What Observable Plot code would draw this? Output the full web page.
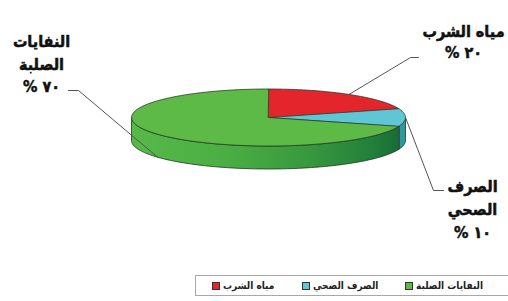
<!DOCTYPE html>
<html><head><meta charset="utf-8">
<script src="https://cdn.jsdelivr.net/npm/d3@7"></script>
<script src="https://cdn.jsdelivr.net/npm/@observablehq/plot@0.6"></script>
<style>
body{margin:0;background:#fff;}
#wrap{position:relative;width:508px;height:301px;overflow:hidden;background:#fff;}
#legend{position:absolute;left:195px;top:275px;width:330px;height:21px;border:1px solid #a8a8a8;box-sizing:border-box;font:bold 10px "DejaVu Sans Condensed","DejaVu Sans",sans-serif;color:#222;}
.item{position:absolute;top:0;height:19px;display:flex;align-items:center;white-space:nowrap;}
.sw{width:6px;height:6px;border:1px solid #333;margin-right:3px;}
</style></head>
<body><div id="wrap"><div id="chart"></div><div id="legend"></div></div>
<script>
// ---- data ----
const categories = ["مياه الشرب", "الصرف الصحي", "النفايات الصلبة"];
const values = [20, 10, 70];
const percentLabels = ["% ٢٠", "% ١٠", "% ٧٠"];
const nameLines = [["مياه الشرب"], ["الصرف", "الصحي"], ["النفايات", "الصلبة"]];
const colors = ["#e4262c", "#5fc6d5", "#5dba47"];

// ---- layout (pixels / styles) ----
const W = 508, H = 272;
const CX = 268, CY = 117, RX = 137, RY = 28.5, DEPTH = 23;
const dv = DEPTH / RY;
const labelLayout = [
  {x: 463, y: 40.5, lh: 1.3},
  {x: 472, y: 207, lh: 1.45},
  {x: 41, y: 62, lh: 1.4}
];
const leaderLayout = [ // label end, elbow (pixels); slice end computed from data
  {end: [418, 57], elbow: [410, 57], side: false},
  {end: [443, 190], elbow: [433, 190], side: false},
  {end: [68, 90], elbow: [78, 90], side: true}
];
const sideColors = ["#b01a1e", "#2e97a4", "url(#sideGreen)"];
const legendLeft = [16, 106, 209];

const toU = px => (px - CX) / RX;
const toV = py => (py - CY) / RY;

// ---- geometry from data ----
const arcs = d3.pie().sort(null).value(d => d).startAngle(0).endAngle(2 * Math.PI)(values);
function arcPoints(a0, a1, off) {
  const n = Math.max(2, Math.ceil((a1 - a0) / 0.02));
  return d3.range(n + 1).map(k => {
    const a = a0 + (a1 - a0) * k / n;
    return {x: Math.sin(a), y: -Math.cos(a) + off};
  });
}
const marks = [];
// side walls (front half only)
arcs.forEach((s, i) => {
  const lo = Math.max(s.startAngle, Math.PI / 2), hi = Math.min(s.endAngle, 3 * Math.PI / 2);
  if (lo < hi) {
    const pts = [...arcPoints(lo, hi, 0), ...arcPoints(lo, hi, dv).reverse()];
    marks.push(Plot.line(pts, {x: "x", y: "y", curve: "linear-closed", fill: sideColors[i], stroke: "#1f3320", strokeWidth: 0.8, strokeLinejoin: "round"}));
  }
});
// top faces
arcs.forEach((s, i) => {
  const pts = [{x: 0, y: 0}, ...arcPoints(s.startAngle, s.endAngle, 0)];
  marks.push(Plot.line(pts, {x: "x", y: "y", curve: "linear-closed", fill: colors[i], stroke: "#2a3a2a", strokeWidth: 0.8, strokeLinejoin: "round"}));
});
// leader lines
arcs.forEach((s, i) => {
  const m = (s.startAngle + s.endAngle) / 2;
  const L = leaderLayout[i];
  const pts = [
    {x: toU(L.end[0]), y: toV(L.end[1])},
    {x: toU(L.elbow[0]), y: toV(L.elbow[1])},
    {x: Math.sin(m), y: -Math.cos(m) + (L.side ? dv : 0)}
  ];
  marks.push(Plot.line(pts, {x: "x", y: "y", stroke: "#555", strokeWidth: 1}));
});
// labels
categories.forEach((c, i) => {
  const L = labelLayout[i];
  const txt = [...nameLines[i], percentLabels[i]].join("\n");
  marks.push(Plot.text([txt], {frameAnchor: "top-left", dx: L.x, dy: L.y, text: d => d,
    textAnchor: "middle", lineAnchor: "middle", lineHeight: L.lh,
    fontSize: 16, fontWeight: "bold", fontFamily: "DejaVu Sans Condensed, DejaVu Sans, sans-serif",
    fill: "#111", stroke: "#111", strokeWidth: 0.5}));
});

const chart = Plot.plot({
  width: W, height: H, margin: 0,
  x: {domain: [-1, 1], range: [CX - RX, CX + RX], axis: null},
  y: {domain: [-1, 1], range: [CY - RY, CY + RY], axis: null},
  marks
});
// gradient for the green side wall
const defs = d3.create("svg:defs");
const g = defs.append("linearGradient").attr("id", "sideGreen")
  .attr("gradientUnits", "userSpaceOnUse")
  .attr("x1", CX - RX).attr("x2", CX + RX).attr("y1", 0).attr("y2", 0);
[[0, "#56b948"], [0.35, "#4aae43"], [0.65, "#37983e"], [0.88, "#22803a"], [1, "#166537"]]
  .forEach(([o, c]) => g.append("stop").attr("offset", o).attr("stop-color", c));
chart.insertBefore(defs.node(), chart.firstChild);
chart.style.background = "#fff";
document.getElementById("chart").appendChild(chart);

// legend
const leg = document.getElementById("legend");
categories.forEach((c, i) => {
  const it = document.createElement("div");
  it.className = "item";
  it.style.left = legendLeft[i] + "px";
  const sw = document.createElement("span");
  sw.className = "sw"; sw.style.background = colors[i];
  const t = document.createElement("span");
  t.textContent = c;
  it.appendChild(sw); it.appendChild(t);
  leg.appendChild(it);
});
</script>
</body></html>
